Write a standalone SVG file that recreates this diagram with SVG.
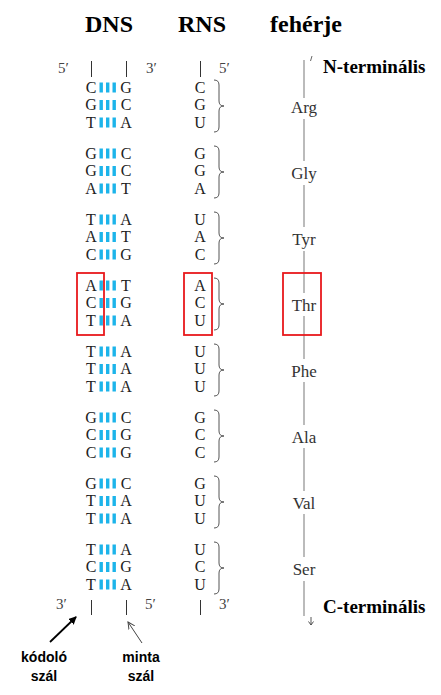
<svg xmlns="http://www.w3.org/2000/svg" width="441" height="695" viewBox="0 0 441 695">
<style>
.hdr{font-family:"Liberation Serif",serif;font-weight:bold;font-size:24px;fill:#000;text-anchor:middle}
.term{font-family:"Liberation Serif",serif;font-weight:bold;font-size:19px;fill:#000}
.b{font-family:"Liberation Serif",serif;font-size:16px;fill:#222;text-anchor:middle}
.p{font-family:"Liberation Serif",serif;font-size:15px;fill:#444}
.aa{font-family:"Liberation Serif",serif;font-size:17px;fill:#333;text-anchor:middle}
.lbl{font-family:"Liberation Sans",sans-serif;font-weight:bold;font-size:14px;fill:#000;text-anchor:middle}
.bar{fill:#1cb4ea}
.tick{stroke:#333;stroke-width:1}
.brace{fill:none;stroke:#555;stroke-width:1}
.axis{stroke:#aaa;stroke-width:1.6}
.red{fill:none;stroke:#e8191c;stroke-width:1.8}
</style>
<defs>
<g id="bars"><rect class="bar" x="99.5" y="-10" width="3.4" height="10"/><rect class="bar" x="106" y="-10" width="3.4" height="10"/><rect class="bar" x="112.5" y="-10" width="3.4" height="10"/></g>
<marker id="ah" markerWidth="8" markerHeight="8" refX="7" refY="4" orient="auto" markerUnits="userSpaceOnUse"><path d="M0,0 L8,4 L0,8 Z" fill="#000"/></marker>
<marker id="ah2" markerWidth="8" markerHeight="8" refX="7" refY="4" orient="auto" markerUnits="userSpaceOnUse"><path d="M0,0.5 L7,4 L0,7.5" fill="none" stroke="#444" stroke-width="1"/></marker>
</defs>
<g id="headers">
<text class="hdr" x="109" y="32">DNS</text>
<text class="hdr" x="202" y="32">RNS</text>
<text class="hdr" x="306" y="32">fehérje</text>
</g>
<g id="ends-top">
<text class="p" x="58" y="73">5′</text>
<text class="p" x="146" y="73">3′</text>
<text class="p" x="219" y="73">5′</text>
<line class="tick" x1="91.5" y1="61" x2="91.5" y2="77"/>
<line class="tick" x1="126.5" y1="61" x2="126.5" y2="77"/>
<line class="tick" x1="200.5" y1="61" x2="200.5" y2="77"/>
<text class="term" x="323" y="73">N-terminális</text>
</g>
<g id="ends-bottom">
<text class="p" x="56" y="609">3′</text>
<text class="p" x="145" y="609">5′</text>
<text class="p" x="219" y="609">3′</text>
<line class="tick" x1="91.5" y1="600" x2="91.5" y2="615"/>
<line class="tick" x1="126.5" y1="600" x2="126.5" y2="615"/>
<line class="tick" x1="200.5" y1="600" x2="200.5" y2="615"/>
<text class="term" x="323" y="613">C-terminális</text>
</g>
<g id="axis">
<line class="axis" x1="304" y1="60" x2="304" y2="98"/>
<line class="axis" x1="304" y1="119" x2="304" y2="161"/>
<line class="axis" x1="304" y1="185" x2="304" y2="227"/>
<line class="axis" x1="304" y1="251" x2="304" y2="293"/>
<line class="axis" x1="304" y1="316" x2="304" y2="359"/>
<line class="axis" x1="304" y1="382" x2="304" y2="425"/>
<line class="axis" x1="304" y1="448" x2="304" y2="491"/>
<line class="axis" x1="304" y1="514" x2="304" y2="557"/>
<line class="axis" x1="304" y1="581" x2="304" y2="616"/>
<line x1="312" y1="56" x2="310.5" y2="61" stroke="#555" stroke-width="0.9"/>
<line x1="311" y1="617" x2="311" y2="625" stroke="#444" stroke-width="0.9"/>
<path d="M308.5,621.5 L311,625 L313.5,621.5" fill="none" stroke="#444" stroke-width="0.9"/>
</g>
<g id="codon1">
<text class="b" x="91" y="92.5">C</text><use href="#bars" y="92.5"/><text class="b" x="126" y="92.5">G</text>
<text class="b" x="91" y="110">G</text><use href="#bars" y="110"/><text class="b" x="126" y="110">C</text>
<text class="b" x="91" y="127.5">T</text><use href="#bars" y="127.5"/><text class="b" x="126" y="127.5">A</text>
<text class="b" x="200" y="92.5">C</text><text class="b" x="200" y="110">G</text><text class="b" x="200" y="127.5">U</text>
<path class="brace" d="M214,80 q5,0 5,5 V101 q0,5 5,5 q-5,0 -5,5 V127 q0,5 -5,5"/>
<text class="aa" x="304" y="113">Arg</text>
</g>
<g id="codon2" transform="translate(0,66)">
<text class="b" x="91" y="92.5">G</text><use href="#bars" y="92.5"/><text class="b" x="126" y="92.5">C</text>
<text class="b" x="91" y="110">G</text><use href="#bars" y="110"/><text class="b" x="126" y="110">C</text>
<text class="b" x="91" y="127.5">A</text><use href="#bars" y="127.5"/><text class="b" x="126" y="127.5">T</text>
<text class="b" x="200" y="92.5">G</text><text class="b" x="200" y="110">G</text><text class="b" x="200" y="127.5">A</text>
<path class="brace" d="M214,80 q5,0 5,5 V101 q0,5 5,5 q-5,0 -5,5 V127 q0,5 -5,5"/>
<text class="aa" x="304" y="113">Gly</text>
</g>
<g id="codon3" transform="translate(0,132)">
<text class="b" x="91" y="92.5">T</text><use href="#bars" y="92.5"/><text class="b" x="126" y="92.5">A</text>
<text class="b" x="91" y="110">A</text><use href="#bars" y="110"/><text class="b" x="126" y="110">T</text>
<text class="b" x="91" y="127.5">C</text><use href="#bars" y="127.5"/><text class="b" x="126" y="127.5">G</text>
<text class="b" x="200" y="92.5">U</text><text class="b" x="200" y="110">A</text><text class="b" x="200" y="127.5">C</text>
<path class="brace" d="M214,80 q5,0 5,5 V101 q0,5 5,5 q-5,0 -5,5 V127 q0,5 -5,5"/>
<text class="aa" x="304" y="113">Tyr</text>
</g>
<g id="codon4" transform="translate(0,198)">
<text class="b" x="91" y="92.5">A</text><use href="#bars" y="92.5"/><text class="b" x="126" y="92.5">T</text>
<text class="b" x="91" y="110">C</text><use href="#bars" y="110"/><text class="b" x="126" y="110">G</text>
<text class="b" x="91" y="127.5">T</text><use href="#bars" y="127.5"/><text class="b" x="126" y="127.5">A</text>
<text class="b" x="200" y="92.5">A</text><text class="b" x="200" y="110">C</text><text class="b" x="200" y="127.5">U</text>
<path class="brace" d="M214,80 q5,0 5,5 V101 q0,5 5,5 q-5,0 -5,5 V127 q0,5 -5,5"/>
<text class="aa" x="304" y="113">Thr</text>
<rect class="red" x="77" y="75" width="27" height="62"/>
<rect class="red" x="184" y="75" width="28" height="62"/>
<rect class="red" x="283" y="75" width="38" height="62"/>
</g>
<g id="codon5" transform="translate(0,264)">
<text class="b" x="91" y="92.5">T</text><use href="#bars" y="92.5"/><text class="b" x="126" y="92.5">A</text>
<text class="b" x="91" y="110">T</text><use href="#bars" y="110"/><text class="b" x="126" y="110">A</text>
<text class="b" x="91" y="127.5">T</text><use href="#bars" y="127.5"/><text class="b" x="126" y="127.5">A</text>
<text class="b" x="200" y="92.5">U</text><text class="b" x="200" y="110">U</text><text class="b" x="200" y="127.5">U</text>
<path class="brace" d="M214,80 q5,0 5,5 V101 q0,5 5,5 q-5,0 -5,5 V127 q0,5 -5,5"/>
<text class="aa" x="304" y="113">Phe</text>
</g>
<g id="codon6" transform="translate(0,330)">
<text class="b" x="91" y="92.5">G</text><use href="#bars" y="92.5"/><text class="b" x="126" y="92.5">C</text>
<text class="b" x="91" y="110">C</text><use href="#bars" y="110"/><text class="b" x="126" y="110">G</text>
<text class="b" x="91" y="127.5">C</text><use href="#bars" y="127.5"/><text class="b" x="126" y="127.5">G</text>
<text class="b" x="200" y="92.5">G</text><text class="b" x="200" y="110">C</text><text class="b" x="200" y="127.5">C</text>
<path class="brace" d="M214,80 q5,0 5,5 V101 q0,5 5,5 q-5,0 -5,5 V127 q0,5 -5,5"/>
<text class="aa" x="304" y="113">Ala</text>
</g>
<g id="codon7" transform="translate(0,396)">
<text class="b" x="91" y="92.5">G</text><use href="#bars" y="92.5"/><text class="b" x="126" y="92.5">C</text>
<text class="b" x="91" y="110">T</text><use href="#bars" y="110"/><text class="b" x="126" y="110">A</text>
<text class="b" x="91" y="127.5">T</text><use href="#bars" y="127.5"/><text class="b" x="126" y="127.5">A</text>
<text class="b" x="200" y="92.5">G</text><text class="b" x="200" y="110">U</text><text class="b" x="200" y="127.5">U</text>
<path class="brace" d="M214,80 q5,0 5,5 V101 q0,5 5,5 q-5,0 -5,5 V127 q0,5 -5,5"/>
<text class="aa" x="304" y="113">Val</text>
</g>
<g id="codon8" transform="translate(0,462)">
<text class="b" x="91" y="92.5">T</text><use href="#bars" y="92.5"/><text class="b" x="126" y="92.5">A</text>
<text class="b" x="91" y="110">C</text><use href="#bars" y="110"/><text class="b" x="126" y="110">G</text>
<text class="b" x="91" y="127.5">T</text><use href="#bars" y="127.5"/><text class="b" x="126" y="127.5">A</text>
<text class="b" x="200" y="92.5">U</text><text class="b" x="200" y="110">C</text><text class="b" x="200" y="127.5">U</text>
<path class="brace" d="M214,80 q5,0 5,5 V101 q0,5 5,5 q-5,0 -5,5 V127 q0,5 -5,5"/>
<text class="aa" x="304" y="113">Ser</text>
</g>
<g id="label-kodolo">
<text class="lbl" x="44" y="662">kódoló</text>
<text class="lbl" x="44" y="681">szál</text>
</g>
<g id="label-minta">
<text class="lbl" x="141" y="662">minta</text>
<text class="lbl" x="141" y="681">szál</text>
</g>
<g id="connectors">
<line x1="50" y1="642" x2="76" y2="617" stroke="#000" stroke-width="1.8" marker-end="url(#ah)"/>
<line x1="142" y1="643" x2="128" y2="622" stroke="#444" stroke-width="1" marker-end="url(#ah2)"/>
</g>
</svg>
